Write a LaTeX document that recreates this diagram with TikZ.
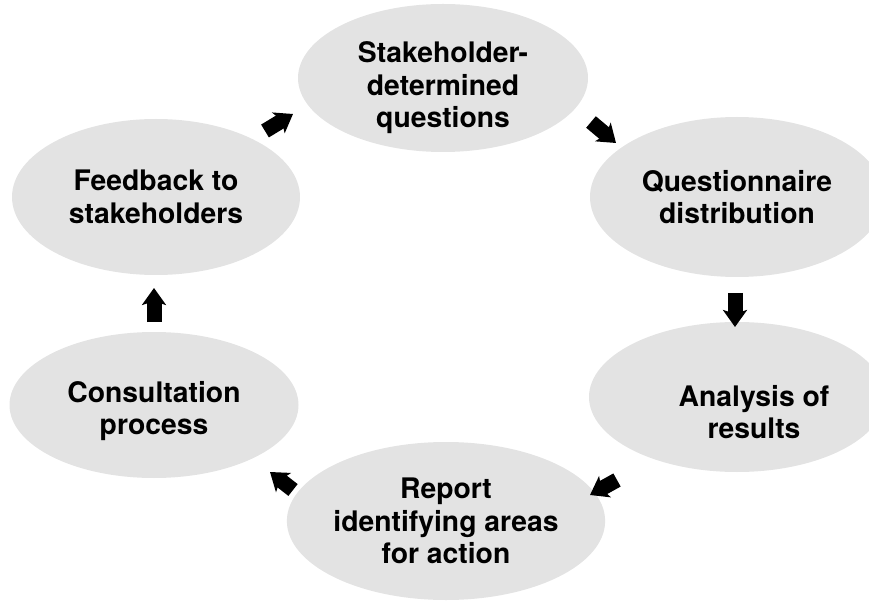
\documentclass[tikz,border=0pt]{standalone}
\usepackage{fontspec}
\setmainfont{TeX Gyre Heros}
\usetikzlibrary{shapes.geometric,arrows.meta}
\definecolor{bubble}{RGB}{227,227,227}
\tikzset{
  bubble/.style={ellipse, fill=bubble, draw=none, inner sep=0pt,
    minimum width=290pt, minimum height=154pt,
    font=\fontsize{28.3}{32.5}\selectfont\bfseries, align=center, text=black},
  txt/.style={font=\fontsize{28.3}{32.5}\selectfont\bfseries, align=center, text=black, inner sep=0pt},
  blockarr/.style={line width=15pt, draw=black,
    -{Stealth[length=17pt, width=24pt, inset=4pt]}}
}
\begin{document}
\begin{tikzpicture}[x=1pt,y=-1pt]
\useasboundingbox (0,0) rectangle (869,601);
\begin{scope}
\clip (0,0) rectangle (869,601);
\node[bubble, minimum height=148pt] (top) at (443,78) {};
\node[txt] (toptxt) at (443,88) {Stakeholder-\\determined\\questions};
\node[bubble, minimum width=288pt, minimum height=156pt] (feed) at (156,197) {Feedback to\\stakeholders};
\node[bubble, minimum width=294pt, minimum height=160pt] (quest) at (737,197) {Questionnaire\\distribution};
\node[bubble, minimum width=296pt, minimum height=150pt] (anal) at (737,397) {};
\node[txt] (analtxt) at (754,412) {Analysis of\\results};
\node[bubble, minimum width=289pt, minimum height=146pt] (cons) at (154,405) {};
\node[txt] (constxt) at (154,411) {Consultation\\process};
\node[bubble, minimum width=288pt, minimum height=158pt] (rep) at (446,521) {Report\\identifying areas\\for action};
\end{scope}
% arrow end points
\coordinate (a1s) at (265,131); \coordinate (a1e) at (293,114);
\coordinate (a2s) at (591,122); \coordinate (a2e) at (616,143);
\coordinate (a3s) at (735,293); \coordinate (a3e) at (735,327);
\coordinate (a4s) at (617,480); \coordinate (a4e) at (590,495);
\coordinate (a5s) at (293,490); \coordinate (a5e) at (270,472);
\coordinate (a6s) at (154,322); \coordinate (a6e) at (154,288);
\draw[blockarr] (a1s) -- (a1e);
\draw[blockarr] (a2s) -- (a2e);
\draw[blockarr] (a3s) -- (a3e);
\draw[blockarr] (a4s) -- (a4e);
\draw[blockarr] (a5s) -- (a5e);
\draw[blockarr] (a6s) -- (a6e);
\end{tikzpicture}
\end{document}
